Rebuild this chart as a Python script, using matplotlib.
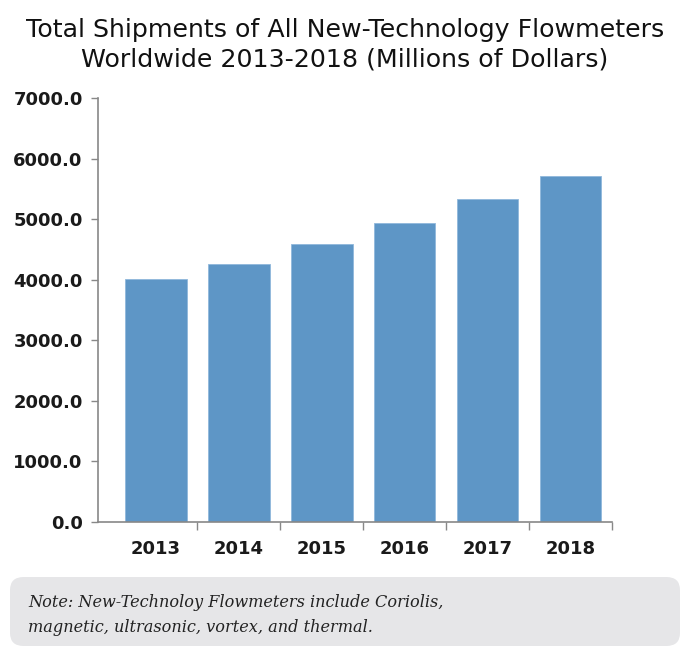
import numpy as np
from matplotlib import pyplot as plt
from matplotlib.patches import FancyBboxPatch

# Datos
years = ["2013", "2014", "2015", "2016", "2017", "2018"]
shipments = [4010, 4265, 4585, 4932, 5328, 5717]
yticks = [0, 1000, 2000, 3000, 4000, 5000, 6000, 7000]

title = "Total Shipments of All New-Technology Flowmeters\nWorldwide 2013-2018 (Millions of Dollars)"
note = "Note: New-Technoloy Flowmeters include Coriolis,\nmagnetic, ultrasonic, vortex, and thermal."

fig = plt.figure(figsize=(6.85, 6.53), dpi=100)
W, H = 685, 653
ax = fig.add_axes([98 / W, 1 - 522 / H, (612 - 98) / W, (522 - 98) / H])

x = np.arange(len(years))
ax.bar(x, shipments, width=0.74, color="#5e96c6", edgecolor="#8fb8dc", linewidth=0.6, zorder=2)

ax.set_ylim(0, 7000)
ax.set_xlim(-0.7, 5.5)
ax.set_yticks(yticks)
ax.set_yticklabels([f"{v:.1f}" for v in yticks], fontsize=13, fontweight="bold", color="#1a1a1a")
ax.set_xticks(x)
ax.set_xticklabels(years, fontsize=13, fontweight="bold", color="#1a1a1a")
ax.tick_params(axis="x", length=0, pad=13)
ax.tick_params(axis="y", length=5, width=1, color="#888888", pad=6)

# ticks entre categorias
ax.set_xticks(np.arange(0.5, 6, 1), minor=True)
ax.tick_params(axis="x", which="minor", length=6, width=1, color="#888888")

for s in ["top", "right"]:
    ax.spines[s].set_visible(False)
for s in ["left", "bottom"]:
    ax.spines[s].set_color("#888888")
    ax.spines[s].set_linewidth(1.2)

fig.text(345 / W, 1 - 45 / H, title, ha="center", va="center", fontsize=18.2,
         color="#111111", linespacing=1.3)

# caja de la nota
box = FancyBboxPatch((10 / W, 1 - 646 / H), 670 / W, 69 / H,
                     boxstyle="round,pad=0,rounding_size=0.02",
                     transform=fig.transFigure, facecolor="#e6e6e8", edgecolor="none")
fig.patches.append(box)
fig.text(28 / W, 1 - 615 / H, note, ha="left", va="center", fontsize=11.6,
         family="DejaVu Serif", style="italic", color="#222222", linespacing=1.55)

fig.savefig("out.png", dpi=100)
